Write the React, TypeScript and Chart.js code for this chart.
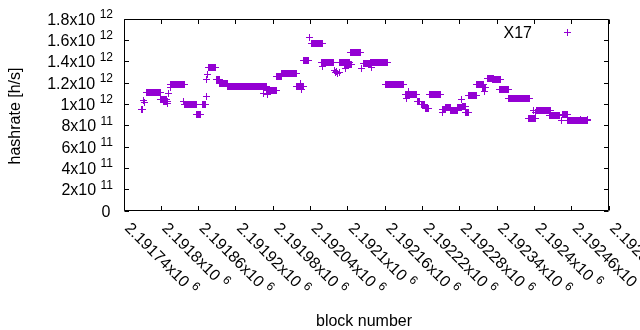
import { useEffect, useRef } from "react";
import { Chart, registerables } from "chart.js";

Chart.register(...registerables);

const seriesName = "X17";
const xTitle = "block number";
const yTitle = "hashrate [h/s]";
const seriesColor = "#9400D3";

// x axis ticks (block numbers) and y axis ticks (hashrate, h/s)
const xTicks = [2191740, 2191800, 2191860, 2191920, 2191980, 2192040, 2192100, 2192160, 2192220, 2192280, 2192340, 2192400, 2192460, 2192520];
const yTicks = [0, 2e11, 4e11, 6e11, 8e11, 1e12, 1.2e12, 1.4e12, 1.6e12, 1.8e12];

// Runs of consecutive blocks sharing one hashrate value
const runFirst = [
  2191768, 2191772, 2191773, 2191776, 2191799, 2191804, 2191810, 2191812, 2191814, 2191815,
  2191836, 2191838, 2191856, 2191866, 2191872, 2191873, 2191874, 2191876, 2191888, 2191894,
  2191906, 2191965, 2191969, 2191970, 2191986, 2191994, 2192018, 2192024, 2192026, 2192028,
  2192039, 2192041, 2192058, 2192060, 2192078, 2192080, 2192082, 2192084, 2192086, 2192087,
  2192095, 2192096, 2192105, 2192122, 2192125, 2192136, 2192138, 2192161, 2192192, 2192194,
  2192197, 2192212, 2192218, 2192225, 2192232, 2192252, 2192253, 2192257, 2192265, 2192276,
  2192283, 2192284, 2192289, 2192294, 2192307, 2192317, 2192320, 2192324, 2192333, 2192344,
  2192359, 2192391, 2192399, 2192402, 2192404, 2192425, 2192443, 2192446, 2192454, 2192474,
  2192485,
];
const runLast = [
  2191769, 2191772, 2191773, 2191798, 2191808, 2191810, 2191810, 2191812, 2191814, 2191837,
  2191836, 2191856, 2191863, 2191871, 2191872, 2191873, 2191874, 2191887, 2191894, 2191906,
  2191969, 2191965, 2191985, 2191970, 2191993, 2192017, 2192028, 2192024, 2192026, 2192036,
  2192039, 2192060, 2192077, 2192060, 2192078, 2192080, 2192082, 2192084, 2192086, 2192103,
  2192106, 2192096, 2192121, 2192122, 2192136, 2192163, 2192138, 2192189, 2192211, 2192194,
  2192197, 2192216, 2192224, 2192230, 2192249, 2192257, 2192253, 2192265, 2192276, 2192283,
  2192283, 2192289, 2192294, 2192307, 2192318, 2192322, 2192320, 2192334, 2192345, 2192358,
  2192392, 2192401, 2192399, 2192402, 2192426, 2192441, 2192443, 2192453, 2192486, 2192474,
  2192485,
];
const runRate = [
  0.947e12, 1.04e12, 1.02e12, 1.11e12, 1.048e12, 1.025e12, 1.01e12, 1.104e12, 1.161e12, 1.183e12,
  1.025e12, 0.994e12, 0.906e12, 1.0e12, 1.072e12, 1.236e12, 1.277e12, 1.349e12, 1.23e12, 1.199e12,
  1.171e12, 1.104e12, 1.129e12, 1.09e12, 1.265e12, 1.286e12, 1.17e12, 1.2e12, 1.135e12, 1.409e12,
  1.623e12, 1.567e12, 1.393e12, 1.355e12, 1.32e12, 1.3e12, 1.31e12, 1.29e12, 1.3e12, 1.393e12,
  1.371e12, 1.34e12, 1.487e12, 1.34e12, 1.38e12, 1.395e12, 1.35e12, 1.189e12, 1.088e12, 1.057e12,
  1.12e12, 1.025e12, 0.994e12, 0.965e12, 1.088e12, 0.95e12, 0.925e12, 0.975e12, 0.942e12, 0.97e12,
  1.048e12, 0.98e12, 0.925e12, 1.079e12, 1.19e12, 1.16e12, 1.12e12, 1.245e12, 1.235e12, 1.142e12,
  1.057e12, 0.87e12, 0.94e12, 0.92e12, 0.944e12, 0.9e12, 0.853e12, 0.909e12, 0.85e12, 0.86e12,
  0.86e12,
];

const FONT = '"Liberation Sans", Arial, sans-serif';

function sci(v: number): [string, string] {
  if (v === 0) return ["0", ""];
  const e = Math.floor(Math.log10(v) + 1e-9);
  const m = parseFloat((v / Math.pow(10, e)).toPrecision(8));
  return [String(m) + "x10", String(e)];
}

function makeCross(): HTMLCanvasElement {
  const c = document.createElement("canvas");
  c.width = 7;
  c.height = 7;
  const g = c.getContext("2d")!;
  g.fillStyle = seriesColor;
  g.fillRect(3, 0, 1, 7);
  g.fillRect(0, 3, 7, 1);
  return c;
}

export default function App() {
  const ref = useRef<HTMLCanvasElement | null>(null);

  useEffect(() => {
    document.body.style.margin = "0";
    const canvas = ref.current;
    if (!canvas) return;
    const cross = makeCross();

    const points: { x: number; y: number }[] = [];
    for (let i = 0; i < runFirst.length; i++) {
      for (let b = runFirst[i]; b <= runLast[i]; b++) points.push({ x: b, y: runRate[i] });
    }

    const framePlugin = {
      id: "gnuframe",
      beforeDatasetsDraw(chart: any) {
        chart.ctx.imageSmoothingEnabled = false;
      },
      afterDraw(chart: any) {
        const ctx = chart.ctx as CanvasRenderingContext2D;
        const a = chart.chartArea;
        const xs = chart.scales.x;
        const ys = chart.scales.y;
        const L = Math.floor(a.left) + 0.5;
        const R = Math.ceil(a.right) - 0.5;
        const T = Math.floor(a.top) + 0.5;
        const B = Math.ceil(a.bottom) - 0.5;
        const tl = 4.5;
        ctx.save();
        ctx.strokeStyle = "#000";
        ctx.lineWidth = 1;
        ctx.beginPath();
        ctx.rect(L, T, R - L, B - T);
        for (const t of xTicks) {
          const p = Math.floor(xs.getPixelForValue(t)) + 0.5;
          ctx.moveTo(p, B);
          ctx.lineTo(p, B - tl);
          ctx.moveTo(p, T);
          ctx.lineTo(p, T + tl);
        }
        for (const t of yTicks) {
          const p = Math.floor(ys.getPixelForValue(t)) + 0.5;
          ctx.moveTo(L, p);
          ctx.lineTo(L + tl, p);
          ctx.moveTo(R, p);
          ctx.lineTo(R - tl, p);
        }
        ctx.stroke();

        ctx.fillStyle = "#000";
        ctx.textBaseline = "alphabetic";
        ctx.textAlign = "left";
        const mainFont = `16px ${FONT}`;
        const expFont = `12px ${FONT}`;

        // y tick labels
        for (const t of yTicks) {
          const y = ys.getPixelForValue(t);
          const [m, e] = sci(t);
          ctx.font = mainFont;
          const wm = ctx.measureText(m).width;
          const ws = e ? ctx.measureText(" ").width : 0;
          ctx.font = expFont;
          const we = e ? ctx.measureText(e).width : 0;
          const right = e ? 113 : 110.5;
          const x0 = right - (wm + ws + we);
          ctx.font = mainFont;
          ctx.fillText(m, x0, y + 5.5);
          if (e) {
            ctx.font = expFont;
            ctx.fillText(e, x0 + wm + ws, y - 1);
          }
        }

        // x tick labels, rotated clockwise by 45 degrees
        for (const t of xTicks) {
          const x = xs.getPixelForValue(t);
          const [m, e] = sci(t);
          ctx.save();
          ctx.translate(x, a.bottom + 18);
          ctx.rotate(Math.PI / 4);
          ctx.font = mainFont;
          const wm = ctx.measureText(m).width;
          const ws = ctx.measureText(" ").width;
          ctx.fillText(m, 0, 0);
          ctx.font = expFont;
          ctx.fillText(e, wm + ws, -6.5);
          ctx.restore();
        }

        // axis titles
        ctx.font = mainFont;
        ctx.textAlign = "center";
        ctx.fillText(xTitle, 364, 325.5);
        ctx.save();
        ctx.translate(20, 116);
        ctx.rotate(-Math.PI / 2);
        ctx.fillText(yTitle, 0, 0);
        ctx.restore();

        // key
        ctx.textAlign = "right";
        ctx.fillText(seriesName, 532, 37.5);
        ctx.drawImage(cross, 564, 29);
        ctx.restore();
      },
    };

    const chart = new Chart(canvas, {
      type: "scatter",
      data: {
        datasets: [
          {
            label: seriesName,
            data: points,
            pointStyle: cross as any,
            pointRadius: 3.5,
            borderColor: seriesColor,
            backgroundColor: seriesColor,
            borderWidth: 1,
          },
        ],
      },
      options: {
        responsive: false,
        animation: false,
        events: [],
        layout: { padding: { left: 124, right: 31, top: 19, bottom: 119 } },
        plugins: { legend: { display: false }, tooltip: { enabled: false } },
        scales: {
          x: { type: "linear", display: false, min: xTicks[0], max: xTicks[xTicks.length - 1] },
          y: { type: "linear", display: false, min: yTicks[0], max: yTicks[yTicks.length - 1] },
        },
      },
      plugins: [framePlugin],
    });
    return () => chart.destroy();
  }, []);

  return (
    <div style={{ width: 640, height: 330 }}>
      <canvas ref={ref} width={640} height={330} style={{ display: "block" }} />
    </div>
  );
}
